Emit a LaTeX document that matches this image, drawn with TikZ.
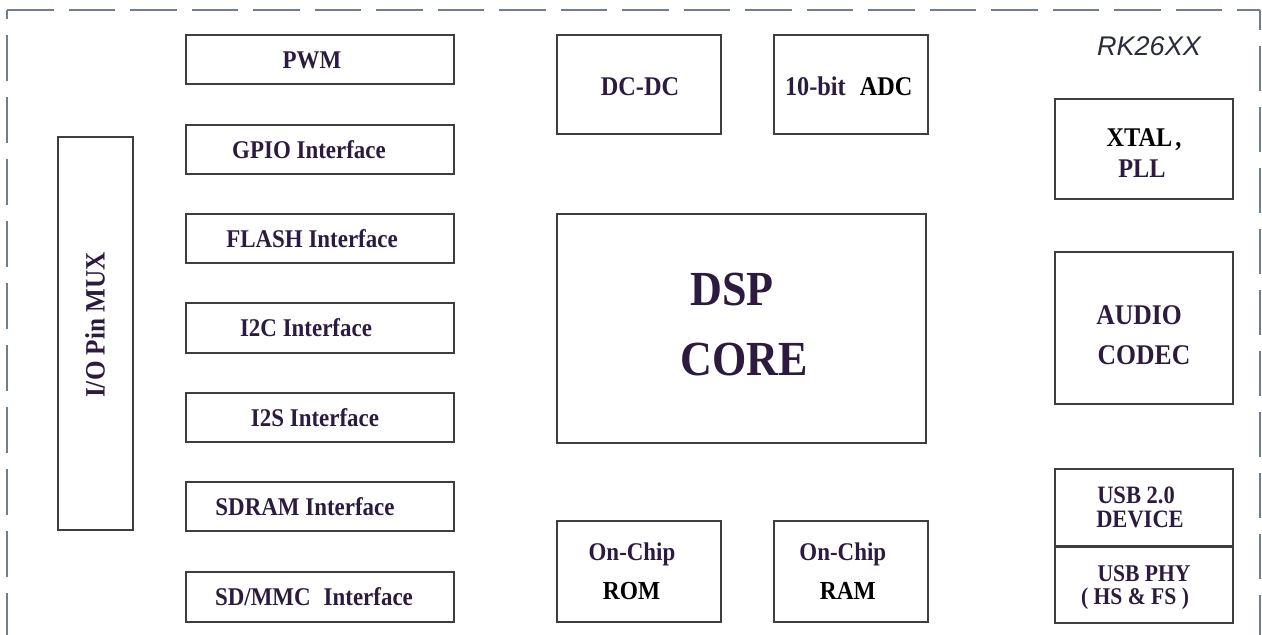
\documentclass[tikz,border=0pt]{standalone}
\usepackage{fontspec}
\newfontfamily\lblfont{Liberation Serif}[FakeStretch=0.9]
\newfontfamily\tagfont{Liberation Sans}
\definecolor{ink}{RGB}{44,27,62}
\definecolor{frame}{RGB}{62,62,58}
\definecolor{dashc}{RGB}{112,126,142}
\definecolor{tagc}{RGB}{40,45,56}
\tikzset{
  blk/.style={draw=frame, line width=1.4pt, inner sep=0pt, fill=white},
  lbl/.style={inner sep=0pt, anchor=base, text=ink},
  fs/.style={font=\lblfont\bfseries\fontsize{#1}{#1}\selectfont},
  border/.style={draw=dashc, line width=1.8pt}
}
\begin{document}
\begin{tikzpicture}[x=1pt,y=-1pt]
\useasboundingbox (0,0) rectangle (1262,635);

% outer dashed chip outline (open at the bottom)
\draw[border, dash pattern=on 46.5pt off 15pt] (7,10) -- (1260,10);
\draw[border, dash pattern=on 46pt off 16pt, dash phase=37pt] (7,10) -- (7,635);
\draw[border, dash pattern=on 45pt off 16pt, dash phase=25pt] (1260,10) -- (1260,635);

% chip name
\node[inner sep=0pt, anchor=base, text=tagc, font=\tagfont\itshape\fontsize{27}{27}\selectfont] (chip) at (1149,55) {RK26XX};

% left column of interface blocks
\node[blk, minimum width=268pt, minimum height=49pt] (pwm)   at (320,59.5)  {};
\node[blk, minimum width=268pt, minimum height=49pt] (gpio)  at (320,149.5) {};
\node[blk, minimum width=268pt, minimum height=49pt] (flash) at (320,238.5) {};
\node[blk, minimum width=268pt, minimum height=50pt] (i2c)   at (320,328)   {};
\node[blk, minimum width=268pt, minimum height=49pt] (i2s)   at (320,417.5) {};
\node[blk, minimum width=268pt, minimum height=49pt] (sdram) at (320,506.5) {};
\node[blk, minimum width=268pt, minimum height=50pt] (sdmmc) at (320,597)   {};

\node[lbl, fs=25.5] (pwm-t)   at (312,68.3)  {PWM};
\node[lbl, fs=25.5] (gpio-t)  at (309,158.3) {GPIO Interface};
\node[lbl, fs=25.5] (flash-t) at (312,247.3) {FLASH Interface};
\node[lbl, fs=25.5] (i2c-t)   at (306,336.8) {I2C Interface};
\node[lbl, fs=25.5] (i2s-t)   at (315,426.3) {I2S Interface};
\node[lbl, fs=25.5] (sdram-t) at (305,515.3) {SDRAM Interface};
\node[lbl, fs=25.5] (sdmmc-t) at (314,605.5) {SD/MMC\hspace{13pt}Interface};

% pin multiplexer
\node[blk, minimum width=75pt, minimum height=393pt] (mux) at (95.5,333.5) {};
\node[lbl, fs=28, rotate=90] (mux-t) at (104.5,325) {I/O Pin MUX};

% centre column
\node[blk, minimum width=164pt, minimum height=99pt]  (dcdc) at (639,84.5)   {};
\node[blk, minimum width=154pt, minimum height=99pt]  (adc)  at (851,84.5)   {};
\node[blk, minimum width=369pt, minimum height=229pt] (dsp)  at (741.5,328.5) {};
\node[blk, minimum width=164pt, minimum height=101pt] (rom)  at (639,571.5)  {};
\node[blk, minimum width=154pt, minimum height=101pt] (ram)  at (851,571.5)  {};

\node[lbl, fs=27] (dcdc-t) at (640,95) {DC-DC};
\node[lbl, fs=27] (adc-t)  at (848.7,95) {10-bit\hspace{14pt}{\color{black}ADC}};
\node[lbl, fs=49] (dsp-t1) at (732,305) {DSP};
\node[lbl, fs=49] (dsp-t2) at (744,375) {CORE};
\node[lbl, fs=25.5] (rom-t1) at (632,560) {On-Chip};
\node[lbl, fs=26, text=black] (rom-t2) at (631.5,599.3) {ROM};
\node[lbl, fs=25.5] (ram-t1) at (842.8,560) {On-Chip};
\node[lbl, fs=26, text=black] (ram-t2) at (847.8,599.3) {RAM};

% right column
\node[blk, minimum width=178pt, minimum height=100pt] (xtal)   at (1144,149)   {};
\node[blk, minimum width=178pt, minimum height=152pt] (audio)  at (1144,328)   {};
\node[blk, minimum width=178pt, minimum height=77pt]  (usbdev) at (1144,507.5) {};
\node[blk, minimum width=178pt, minimum height=77pt]  (usbphy) at (1144,584.5) {};
\draw[draw=frame, line width=2.2pt] (usbdev.south west) -- (usbdev.south east);

\node[lbl, fs=27, text=black] (xtal-t1) at (1144,146) {XTAL\hspace{3pt},};
\node[lbl, fs=27] (xtal-t2) at (1142,177) {PLL};
\node[lbl, fs=28.5] (audio-t1) at (1139,324) {AUDIO};
\node[lbl, fs=28.5] (audio-t2) at (1144,364) {CODEC};
\node[lbl, fs=25] (usbdev-t1) at (1136,503) {USB 2.0};
\node[lbl, fs=25] (usbdev-t2) at (1140,527) {DEVICE};
\node[lbl, fs=24] (usbphy-t1) at (1144,581) {USB PHY};
\node[lbl, fs=24] (usbphy-t2) at (1135,604) {( HS \& FS )};
\end{tikzpicture}
\end{document}
